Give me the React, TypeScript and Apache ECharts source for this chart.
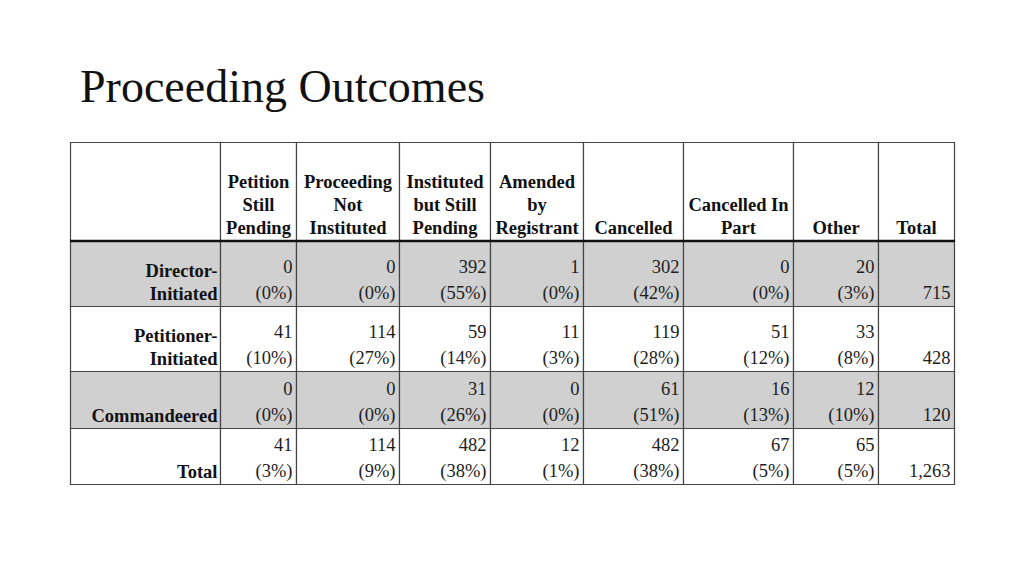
import React, { useEffect, useRef } from "react";
import * as echarts from "echarts";

// ---- data ----
const titleText = "Proceeding Outcomes";
const columnHeaders = [
  "Petition\nStill\nPending",
  "Proceeding\nNot\nInstituted",
  "Instituted\nbut Still\nPending",
  "Amended\nby\nRegistrant",
  "Cancelled",
  "Cancelled In\nPart",
  "Other",
  "Total",
];
const rowLabels = ["Director-\nInitiated", "Petitioner-\nInitiated", "Commandeered", "Total"];
const directorCounts = [0, 0, 392, 1, 302, 0, 20];
const directorPcts = [0, 0, 55, 0, 42, 0, 3];
const petitionerCounts = [41, 114, 59, 11, 119, 51, 33];
const petitionerPcts = [10, 27, 14, 3, 28, 12, 8];
const commandeeredCounts = [0, 0, 31, 0, 61, 16, 12];
const commandeeredPcts = [0, 0, 26, 0, 51, 13, 10];
const totalCounts = [41, 114, 482, 12, 482, 67, 65];
const totalPcts = [3, 9, 38, 1, 38, 5, 5];
const rowTotals = [715, 428, 120, 1263];
const shadedRows = [true, false, true, false];

// ---- layout (not data) ----
const colWidths = [150, 76, 103, 91, 93, 100, 110, 85, 76];
const rowHeights = [99, 65, 65, 57, 56];
const FONT = '"Liberation Serif", "DejaVu Serif", serif';

function edges(sizes: number[]) {
  const e = [0];
  sizes.forEach((s) => e.push(e[e.length - 1] + s));
  return e;
}
const colEdges = edges(colWidths);
const rowEdges = edges(rowHeights);
const tableW = colEdges[colEdges.length - 1];
const tableH = rowEdges[rowEdges.length - 1];

type Cell = { col: number; row: number; text: string; kind: "header" | "label" | "num" | "total" | "blank"; shaded: boolean };

function buildCells(): Cell[] {
  const cells: Cell[] = [];
  cells.push({ col: 0, row: 0, text: "", kind: "blank", shaded: false });
  columnHeaders.forEach((h, i) => cells.push({ col: i + 1, row: 0, text: h, kind: "header", shaded: false }));
  const counts = [directorCounts, petitionerCounts, commandeeredCounts, totalCounts];
  const pcts = [directorPcts, petitionerPcts, commandeeredPcts, totalPcts];
  rowLabels.forEach((lab, r) => {
    const shaded = shadedRows[r];
    cells.push({ col: 0, row: r + 1, text: lab, kind: "label", shaded });
    counts[r].forEach((v, c) => {
      cells.push({ col: c + 1, row: r + 1, text: `${v}\n(${pcts[r][c]}%)`, kind: "num", shaded });
    });
    cells.push({
      col: columnHeaders.length,
      row: r + 1,
      text: rowTotals[r].toLocaleString("en-US"),
      kind: "total",
      shaded,
    });
  });
  return cells;
}
const cells = buildCells();

export default function App() {
  const ref = useRef<HTMLDivElement>(null);
  useEffect(() => {
    if (!ref.current) return;
    const chart = echarts.init(ref.current, undefined, { renderer: "svg" });
    chart.setOption({
      animation: false,
      backgroundColor: "#ffffff",
      title: {
        text: titleText,
        left: 75,
        top: 58,
        textStyle: { fontFamily: FONT, fontSize: 46, fontWeight: "normal", color: "#111111" },
      },
      grid: { left: 70, top: 142, width: tableW, height: tableH },
      xAxis: { type: "value", min: 0, max: tableW, show: false },
      yAxis: { type: "value", min: 0, max: tableH, inverse: true, show: false },
      series: [
        {
          type: "custom",
          coordinateSystem: "cartesian2d",
          data: cells.map((c) => [c.col, c.row]),
          renderItem: (params: any, api: any) => {
            const c = cells[params.dataIndex];
            const p0 = api.coord([colEdges[c.col], rowEdges[c.row]]);
            const p1 = api.coord([colEdges[c.col + 1], rowEdges[c.row + 1]]);
            const x0 = Math.round(p0[0]) + 0.5;
            const y0 = Math.round(p0[1]) + 0.5;
            const x1 = Math.round(p1[0]) + 0.5;
            const y1 = Math.round(p1[1]) + 0.5;
            const children: any[] = [
              {
                type: "rect",
                shape: { x: x0, y: y0, width: x1 - x0, height: y1 - y0 },
                style: { fill: c.shaded ? "#d0d0d0" : "#ffffff", stroke: "#444444", lineWidth: 1.2 },
              },
            ];
            if (c.kind === "header") {
              children.push({
                type: "text",
                x: (x0 + x1) / 2,
                y: y1 - 2,
                style: {
                  text: c.text,
                  align: "center",
                  verticalAlign: "bottom",
                  font: `bold 18.5px ${FONT}`,
                  lineHeight: 23,
                  fill: "#111111",
                },
              });
            } else if (c.kind === "label") {
              children.push({
                type: "text",
                x: x1 - 3,
                y: y1 - 1,
                style: {
                  text: c.text,
                  align: "right",
                  verticalAlign: "bottom",
                  font: `bold 18.5px ${FONT}`,
                  lineHeight: 23,
                  fill: "#111111",
                },
              });
            } else if (c.kind === "num" || c.kind === "total") {
              children.push({
                type: "text",
                x: x1 - 4,
                y: y1 - 1,
                style: {
                  text: c.text,
                  align: "right",
                  verticalAlign: "bottom",
                  font: `18.5px ${FONT}`,
                  lineHeight: 26,
                  fill: "#1e1e1e",
                },
              });
            }
            return { type: "group", children };
          },
        },
        {
          type: "custom",
          coordinateSystem: "cartesian2d",
          z: 5,
          data: [[0, 1]],
          renderItem: (params: any, api: any) => {
            const a = api.coord([0, rowEdges[1]]);
            const b = api.coord([tableW, rowEdges[1]]);
            return {
              type: "line",
              shape: { x1: a[0], y1: Math.round(a[1]), x2: b[0] + 1, y2: Math.round(b[1]) },
              style: { stroke: "#111111", lineWidth: 2.5 },
            };
          },
        },
      ],
    });
    return () => chart.dispose();
  }, []);
  return (
    <div
      ref={ref}
      style={{ position: "fixed", left: 0, top: 0, width: 1024, height: 576, background: "#fff" }}
    />
  );
}
